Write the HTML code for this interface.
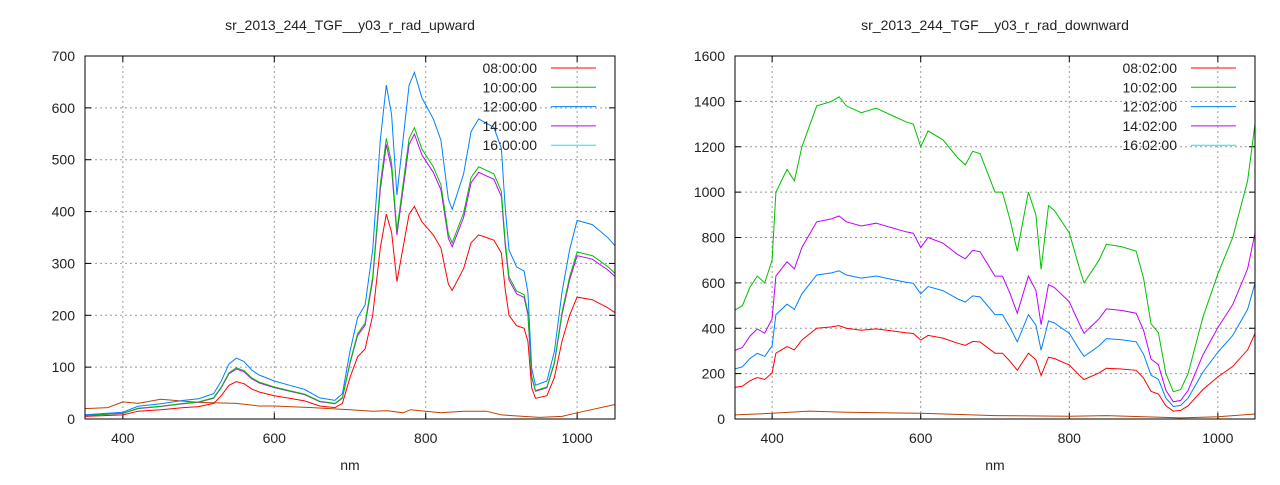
<!DOCTYPE html><html><head><style>body{margin:0;background:#fff}svg text{font-family:"Liberation Sans",sans-serif;font-size:14px;fill:#222}</style></head><body>
<svg id="s" width="1280" height="480" xmlns="http://www.w3.org/2000/svg"></svg>
<script>
const s=document.getElementById('s');let h='';
function add(x){h+=x;}
function plot(X0,X1,Y0,Y1,ymax,ystep,title,series,labels){
 const fx=n=>X0+(n-350)*(X1-X0)/700, fy=v=>Y1-v*(Y1-Y0)/ymax;
 add(`<text x="${(X0+X1)/2}" y="30" text-anchor="middle">${title}</text>`);
 add(`<text x="${(X0+X1)/2}" y="470" text-anchor="middle">nm</text>`);
 for(let v=0;v<=ymax;v+=ystep){const y=fy(v);
  if(v>0&&v<ymax)add(`<line x1="${X0}" x2="${X1}" y1="${y}" y2="${y}" stroke="#999" stroke-dasharray="2,3"/>`);
  add(`<line x1="${X0}" x2="${X0+6}" y1="${y}" y2="${y}" stroke="#000"/><line x1="${X1-6}" x2="${X1}" y1="${y}" y2="${y}" stroke="#000"/>`);
  add(`<text x="${X0-10}" y="${y+5}" text-anchor="end">${v}</text>`);}
 for(let n=400;n<=1000;n+=200){const x=fx(n);
  add(`<line x1="${x}" x2="${x}" y1="${Y0}" y2="${Y1}" stroke="#999" stroke-dasharray="2,3"/>`);
  add(`<line x1="${x}" x2="${x}" y1="${Y1-6}" y2="${Y1}" stroke="#000"/><line x1="${x}" x2="${x}" y1="${Y0}" y2="${Y0+6}" stroke="#000"/>`);
  add(`<text x="${x}" y="${Y1+24}" text-anchor="middle">${n}</text>`);}
 for(const [pts,k,c] of series){
  add(`<polyline fill="none" stroke="${c}" stroke-width="1" points="${pts.map(p=>fx(p[0]).toFixed(1)+','+fy(p[1]*k).toFixed(1)).join(' ')}"/>`);}
 const cols=['#ff0000','#00c000','#0080ff','#c000ff','#00eeee'];
 labels.forEach((l,i)=>{const y=68+i*19.3;
  add(`<text x="${X1-78}" y="${y+5}" text-anchor="end">${l}</text><line x1="${X1-64}" x2="${X1-19}" y1="${y}" y2="${y}" stroke="${cols[i]}"/>`);});
 add(`<rect x="${X0}" y="${Y0}" width="${X1-X0}" height="${Y1-Y0}" fill="none" stroke="#000"/>`);
}
const L=[[350,5],[400,8],[420,15],[450,18],[480,22],[500,24],[520,30],[530,45],[540,65],[550,72],[560,68],[570,58],[580,52],[600,45],[620,40],[640,35],[660,25],[680,22],[690,30],[700,80],[710,120],[720,135],[730,200],[740,330],[748,395],[755,360],[762,265],[770,330],[778,395],[785,410],[795,380],[810,355],[820,330],[830,260],[835,248],[850,290],[860,340],[870,355],[880,350],[890,345],[900,320],[905,250],[910,200],[920,180],[930,175],[935,150],[940,60],[945,40],[960,45],[970,80],[980,150],[990,200],[1000,235],[1020,230],[1040,215],[1050,205]];
const LB=[[350,20],[380,22],[400,33],[420,30],[450,38],[500,32],[550,30],[580,25],[600,25],[650,22],[700,18],[730,15],[750,16],[770,12],[780,18],[800,15],[820,12],[850,15],[880,15],[900,8],[950,3],[980,5],[1000,12],[1050,28]];
const R=[[350,480],[360,500],[370,580],[380,630],[390,600],[400,700],[405,1000],[420,1100],[430,1050],[440,1200],[460,1380],[480,1400],[490,1420],[500,1380],[520,1350],[540,1370],[560,1340],[580,1310],[590,1300],[600,1200],[610,1270],[630,1230],[650,1150],[660,1120],[670,1180],[680,1170],[700,1000],[710,1000],[720,880],[730,740],[745,1000],[755,900],[762,660],[772,940],[780,920],[800,820],[815,650],[820,600],[840,700],[850,770],[870,760],[890,740],[900,620],[910,420],[920,380],[930,200],[940,120],[950,130],[960,200],[980,450],[1000,640],[1020,800],[1040,1050],[1050,1300]];
const RB=[[350,18],[400,25],[450,35],[500,30],[600,25],[700,15],[800,12],[850,15],[900,10],[950,5],[1000,10],[1050,22]];
plot(85,615,56,419,700,100,'sr_2013_244_TGF__y03_r_rad_upward',
 [[LB,1,'#c04000'],[L,1,'#ff0000'],[L,1.34,'#c000ff'],[L,1.37,'#00c000'],[L,1.63,'#0080ff']],
 ['08:00:00','10:00:00','12:00:00','14:00:00','16:00:00']);
plot(735,1255,56,419,1600,200,'sr_2013_244_TGF__y03_r_rad_downward',
 [[RB,1,'#c04000'],[R,0.29,'#ff0000'],[R,0.46,'#0080ff'],[R,0.63,'#c000ff'],[R,1,'#00c000']],
 ['08:02:00','10:02:00','12:02:00','14:02:00','16:02:00']);
s.innerHTML=h;
</script></body></html>
